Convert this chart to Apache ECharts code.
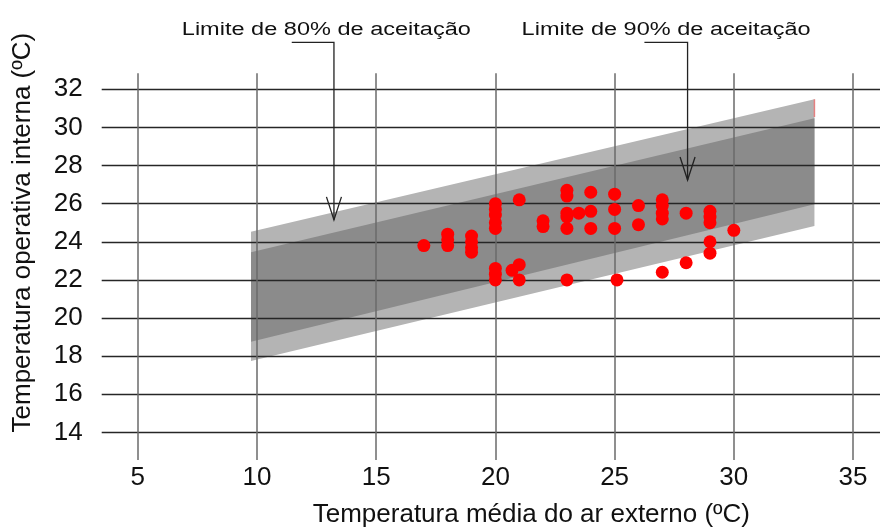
<!DOCTYPE html>
<html>
<head>
<meta charset="utf-8">
<script src="https://cdn.jsdelivr.net/npm/echarts@6/dist/echarts.min.js"></script>
<style>
  html, body { margin: 0; padding: 0; background: #fff; }
  #chart { width: 880px; height: 527px; }
</style>
</head>
<body>
<div id="chart"></div>
<script>
// tick labels
const xTicks = [5, 10, 15, 20, 25, 30, 35];
const yTicks = [14, 16, 18, 20, 22, 24, 26, 28, 30, 32];

// acceptability bands, value at left and right end
const bandX = [9.75, 33.38];
const upper80 = [24.53, 31.48];
const upper90 = [23.45, 30.48];
const lower90 = [18.76, 25.97];
const lower80 = [17.74, 24.83];

// measured points
const outdoorTemp = [
  17, 18, 18, 18, 19, 19, 19, 19,
  20, 20, 20, 20, 20, 20, 20, 20,
  21, 20.7, 21, 21, 22, 22,
  23, 23, 23, 23, 23, 23, 23.5,
  24, 24, 24, 25, 25, 25, 25.1,
  26, 26, 27, 27, 27, 27, 27,
  28, 28, 29, 29, 29, 29, 29, 30
];
const operativeTemp = [
  23.8, 24.4, 24.1, 23.8, 24.3, 24.0, 23.7, 23.45,
  26.0, 25.7, 25.4, 25.0, 24.7, 22.6, 22.3, 22.0,
  26.2, 22.5, 22.8, 22.0, 25.1, 24.8,
  26.7, 26.4, 25.5, 25.3, 24.7, 22.0, 25.5,
  26.6, 25.6, 24.7, 26.5, 25.7, 24.7, 22.0,
  25.9, 24.9, 26.2, 25.9, 25.5, 25.2, 22.4,
  25.5, 22.9, 25.6, 25.3, 25.0, 24.0, 23.4, 24.6
];

const sliverY = [30.55, 31.48];

const font = '"Liberation Sans", Arial, sans-serif';
const bandColors = ['#b4b4b4', '#8b8b8b'];

const chart = echarts.init(document.getElementById('chart'));

chart.setOption({
  animation: false,
  grid: { left: 101.7, right: 0, top: 73.3, bottom: 67, outerBoundsMode: 'none', containLabel: false },
  xAxis: {
    type: 'value', min: 3.49, max: 36.13,
    name: 'Temperatura média do ar externo (ºC)',
    nameLocation: 'middle', nameGap: 42,
    nameTextStyle: { fontSize: 26, fontFamily: font, color: '#111', padding: [0, 0, 0, 81] },
    axisLine: { show: false }, axisTick: { show: false }, splitLine: { show: false },
    axisLabel: { customValues: xTicks, fontSize: 26, fontFamily: font, color: '#111', margin: 5 }
  },
  yAxis: {
    type: 'value', min: 12.55, max: 32.84,
    name: 'Temperatura operativa interna (ºC)',
    nameLocation: 'middle', nameGap: 66,
    nameTextStyle: { fontSize: 26, fontFamily: font, color: '#111', padding: [0, 0, 0, 68] },
    axisLine: { show: false }, axisTick: { show: false }, splitLine: { show: false },
    axisLabel: { customValues: yTicks, fontSize: 26, fontFamily: font, color: '#111', margin: 19 }
  },
  series: [
    {
      type: 'custom', z: 1, silent: true,
      data: [
        [bandX[0], bandX[1], upper80[0], upper80[1], lower80[0], lower80[1]],
        [bandX[0], bandX[1], upper90[0], upper90[1], lower90[0], lower90[1]]
      ],
      encode: { x: [0, 1], y: [2, 3, 4, 5] },
      renderItem: function (params, api) {
        const pts = [
          api.coord([api.value(0), api.value(2)]),
          api.coord([api.value(1), api.value(3)]),
          api.coord([api.value(1), api.value(5)]),
          api.coord([api.value(0), api.value(4)])
        ];
        return { type: 'polygon', shape: { points: pts }, style: { fill: bandColors[params.dataIndex] } };
      }
    },
    {
      type: 'line', z: 2, silent: true, symbol: 'none',
      data: sliverY.map(v => [bandX[1], v]),
      lineStyle: { color: '#e58080', width: 1.5 }
    },
    {
      // grid lines drawn above the bands
      type: 'line', z: 3, data: [], silent: true,
      markLine: {
        silent: true, symbol: ['none', 'none'], label: { show: false },
        animation: false,
        data: yTicks.map(v => ({ yAxis: v, lineStyle: { color: '#262626', width: 1.4, type: 'solid' } }))
          .concat(xTicks.map(v => ({ xAxis: v, lineStyle: { color: '#6a6a6a', width: 1.5, type: 'solid' } })))
      }
    },
    {
      type: 'scatter', z: 10, symbolSize: 13,
      itemStyle: { color: '#ff0000', opacity: 1 },
      data: outdoorTemp.map((x, i) => [x, operativeTemp[i]])
    }
  ]
});

// annotation arrows (x and tip in data units)
const notes = [
  { text: 'Limite de 80% de aceitação', textX: 12.91, startX: 11.46, tip: [13.23, 25.15] },
  { text: 'Limite de 90% de aceitação', textX: 27.16, startX: 26.25, tip: [28.06, 27.24] }
];
const graphics = [];
notes.forEach(n => {
  const tip = chart.convertToPixel({ gridIndex: 0 }, n.tip);
  const sx = chart.convertToPixel({ gridIndex: 0 }, [n.startX, n.tip[1]])[0];
  const tx = chart.convertToPixel({ gridIndex: 0 }, [n.textX, n.tip[1]])[0];
  const lineStyle = { stroke: '#222', lineWidth: 1.3, fill: 'none' };
  graphics.push({ type: 'polyline', z: 100, shape: { points: [[sx, 42.3], [tip[0], 42.3], tip] }, style: lineStyle });
  graphics.push({ type: 'polyline', z: 100, shape: { points: [[tip[0] - 7.5, tip[1] - 23], tip, [tip[0] + 7.5, tip[1] - 23]] }, style: lineStyle });
  graphics.push({
    type: 'text', z: 100, x: tx, y: 30, scaleX: 1.307,
    style: { text: n.text, font: '18px ' + font, fill: '#111', textAlign: 'center', textVerticalAlign: 'middle' }
  });
});
chart.setOption({ graphic: graphics });
</script>
</body>
</html>
